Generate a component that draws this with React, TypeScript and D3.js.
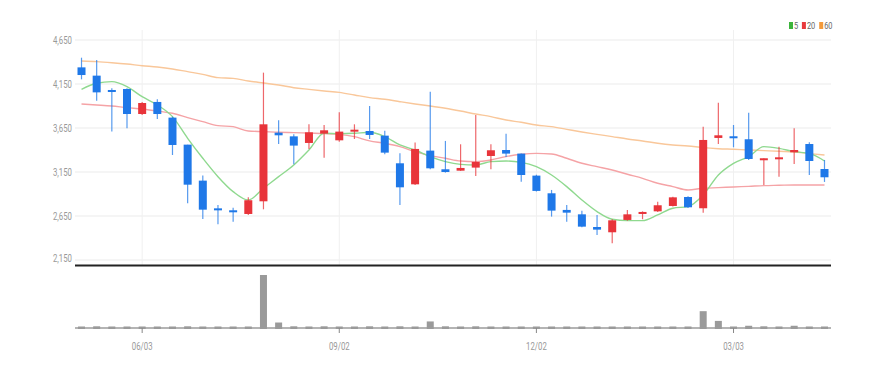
import React from "react";
import * as d3 from "d3";

const dates = ["05/06","05/13","05/20","05/27","06/03","06/10","06/17","06/24","07/01","07/08","07/15","07/22","07/29","08/05","08/12","08/19","08/26","09/02","09/09","09/16","09/23","09/30","10/07","10/14","10/21","10/28","11/04","11/11","11/18","11/25","12/02","12/09","12/16","12/23","12/30","01/06","01/13","01/20","01/27","02/03","02/10","02/17","02/24","03/03","03/10","03/17","03/24","03/31","04/07","04/14"];
const openV = [4339,4245,4082,4093,3809,3946,3768,3461,3052,2737,2715,2673,2817,3597,3555,3480,3586,3510,3616,3616,3563,3249,3010,3393,3181,3165,3200,3332,3400,3359,3109,2908,2719,2669,2525,2465,2605,2673,2703,2764,2866,2738,3537,3556,3522,3294,3298,3374,3468,3184];
const highV = [4449,4423,4101,4101,3946,3976,3779,3461,3109,2775,2745,2863,4279,3737,3578,3692,3684,3828,3692,3900,3620,3362,3484,4063,3503,3465,3798,3465,3586,3359,3120,2946,2775,2711,2662,2613,2719,2703,2813,2870,2874,3665,3938,3684,3824,3306,3438,3646,3488,3287];
const lowV = [4203,3961,3609,3647,3798,3752,3343,2794,2616,2556,2586,2662,2726,3468,3237,3412,3313,3495,3525,3525,3351,2775,3003,3181,3143,3162,3105,3181,3321,3040,2927,2643,2586,2522,2435,2340,2597,2613,2696,2757,2741,2688,3468,3431,3287,3003,3097,3241,3116,3037];
const closeV = [4252,4055,4059,3809,3934,3809,3457,3006,2722,2722,2692,2829,3692,3567,3450,3601,3624,3609,3631,3571,3370,2976,3412,3192,3150,3196,3264,3397,3359,3116,2935,2711,2688,2529,2495,2601,2669,2696,2772,2862,2749,3514,3567,3537,3298,3306,3317,3400,3275,3090];
const volumeV = [3,5,3,3,2,2,3,5,3,3,1,3,100,12,5,4,5,3,4,5,3,5,3,14,5,3,5,3,3,3,3,3,2,3,2,0.5,0.5,0.5,2,2,3,33,15,4,6,5,4,6,4,2];
const ma5 = [4089,4158,4177,4120,4006,3912,3779,3533,3306,3097,2927,2832,2965,3097,3230,3400,3590,3586,3590,3601,3552,3457,3400,3325,3268,3237,3230,3268,3275,3260,3211,3116,2984,2832,2700,2613,2597,2597,2662,2738,2757,2889,3116,3249,3325,3438,3419,3381,3362,3275];
const ma20 = [3923,3912,3900,3881,3866,3843,3817,3768,3722,3677,3665,3616,3609,3601,3597,3593,3586,3578,3552,3503,3476,3438,3381,3336,3306,3275,3268,3287,3325,3351,3362,3355,3306,3249,3211,3173,3124,3078,3022,2984,2946,2965,2972,2980,2987,2995,2999,3003,3003,3003];
const ma60 = [4411,4404,4392,4377,4358,4343,4321,4290,4260,4222,4214,4184,4161,4139,4108,4089,4071,4055,4025,3995,3976,3949,3923,3900,3874,3843,3809,3779,3741,3715,3684,3665,3635,3605,3578,3552,3525,3503,3476,3457,3446,3427,3415,3408,3400,3393,3385,3378,3359,3343];
const yTicks = [4650,4150,3650,3150,2650,2150];
const xTickLabels = ["06/03","09/02","12/02","03/03"];
const legendItems = [
  { label: "5", color: "#3cb43c" },
  { label: "20", color: "#e8393c" },
  { label: "60", color: "#f39a3a" },
];
const maSeries = [
  { values: ma60, color: "#f9c79a" },
  { values: ma20, color: "#f5a3a6" },
  { values: ma5, color: "#8fd98f" },
];

const W = 887, H = 370;
const FONT = "'Roboto', 'Liberation Sans', sans-serif";
const UP = "#e8343a", DOWN = "#1f78e8";
const SX = 0.78;

function NText({ x, y, anchor, size, fill, children }: { x: number; y: number; anchor: string; size: number; fill: string; children: React.ReactNode }) {
  return (
    <text transform={`translate(${x},${y}) scale(${SX},1)`} dy="0.35em" textAnchor={anchor} fontSize={size} fill={fill}>
      {children}
    </text>
  );
}

export default function App() {
  const x = d3.scaleBand<string>().domain(dates).range([74, 832]).paddingInner(0.47).paddingOuter(0.23);
  const cx = (d: string) => (x(d) as number) + x.bandwidth() / 2;
  const y = d3.scaleLinear().domain([2150, 4650]).range([260, 40]);
  const yv = d3.scaleLinear().domain([0, d3.max(volumeV) as number]).range([328, 274]);
  const bw = 8;
  const line = d3.line<number>().x((_, i) => cx(dates[i])).y((v) => y(v)).curve(d3.curveMonotoneX);

  let lx = 789;
  const legend = legendItems.map((it) => {
    const g = { ...it, sx: lx, tx: lx + 5 };
    lx += 5 + it.label.length * 4.4 + 3.5;
    return g;
  });

  return (
    <svg width={W} height={H} style={{ position: "absolute", left: 0, top: 0, background: "#fff" }} fontFamily={FONT}>
      {yTicks.map((t) => (
        <g key={t}>
          <line x1={75} x2={831} y1={y(t)} y2={y(t)} stroke="#ececec" strokeWidth={1.2} />
          <NText x={72} y={t === 2150 ? y(t) - 2 : y(t)} anchor="end" size={10} fill="#999">
            {d3.format(",")(t)}
          </NText>
        </g>
      ))}
      {xTickLabels.map((l) => (
        <line key={l} x1={cx(l)} x2={cx(l)} y1={30} y2={265} stroke="#f0f0f0" strokeWidth={1} />
      ))}
      {maSeries.map((s, k) => (
        <path key={k} d={line(s.values) as string} fill="none" stroke={s.color} strokeWidth={1.4} />
      ))}
      {dates.map((d, i) => {
        const up = closeV[i] >= openV[i];
        const col = up ? UP : DOWN;
        const top = y(Math.max(openV[i], closeV[i]));
        const bot = y(Math.min(openV[i], closeV[i]));
        const h = Math.max(2, bot - top);
        return (
          <g key={d}>
            <line x1={cx(d)} x2={cx(d)} y1={y(highV[i])} y2={y(lowV[i])} stroke={col} strokeOpacity={0.75} strokeWidth={1.2} />
            <rect x={cx(d) - bw / 2} y={top} width={bw} height={h} fill={col} />
          </g>
        );
      })}
      <line x1={75} x2={831} y1={265.5} y2={265.5} stroke="#222" strokeWidth={2} />
      <line x1={75} x2={831} y1={328} y2={328} stroke="#b4b4b4" strokeWidth={2} />
      {dates.map((d, i) => {
        const t = yv(volumeV[i]);
        const h = Math.max(2.5, 328 - t);
        return <rect key={d} x={cx(d) - 3.5} y={329 - h} width={7} height={h} fill="#9a9a9a" />;
      })}
      {xTickLabels.map((l) => (
        <g key={l}>
          <line x1={cx(l)} x2={cx(l)} y1={328} y2={333} stroke="#888" strokeWidth={1} />
          <NText x={cx(l)} y={346} anchor="middle" size={10} fill="#999">{l}</NText>
        </g>
      ))}
      {legend.map((g) => (
        <g key={g.label}>
          <rect x={g.sx} y={22} width={4} height={7} fill={g.color} />
          <NText x={g.tx} y={25.5} anchor="start" size={9.5} fill="#666">{g.label}</NText>
        </g>
      ))}
    </svg>
  );
}
